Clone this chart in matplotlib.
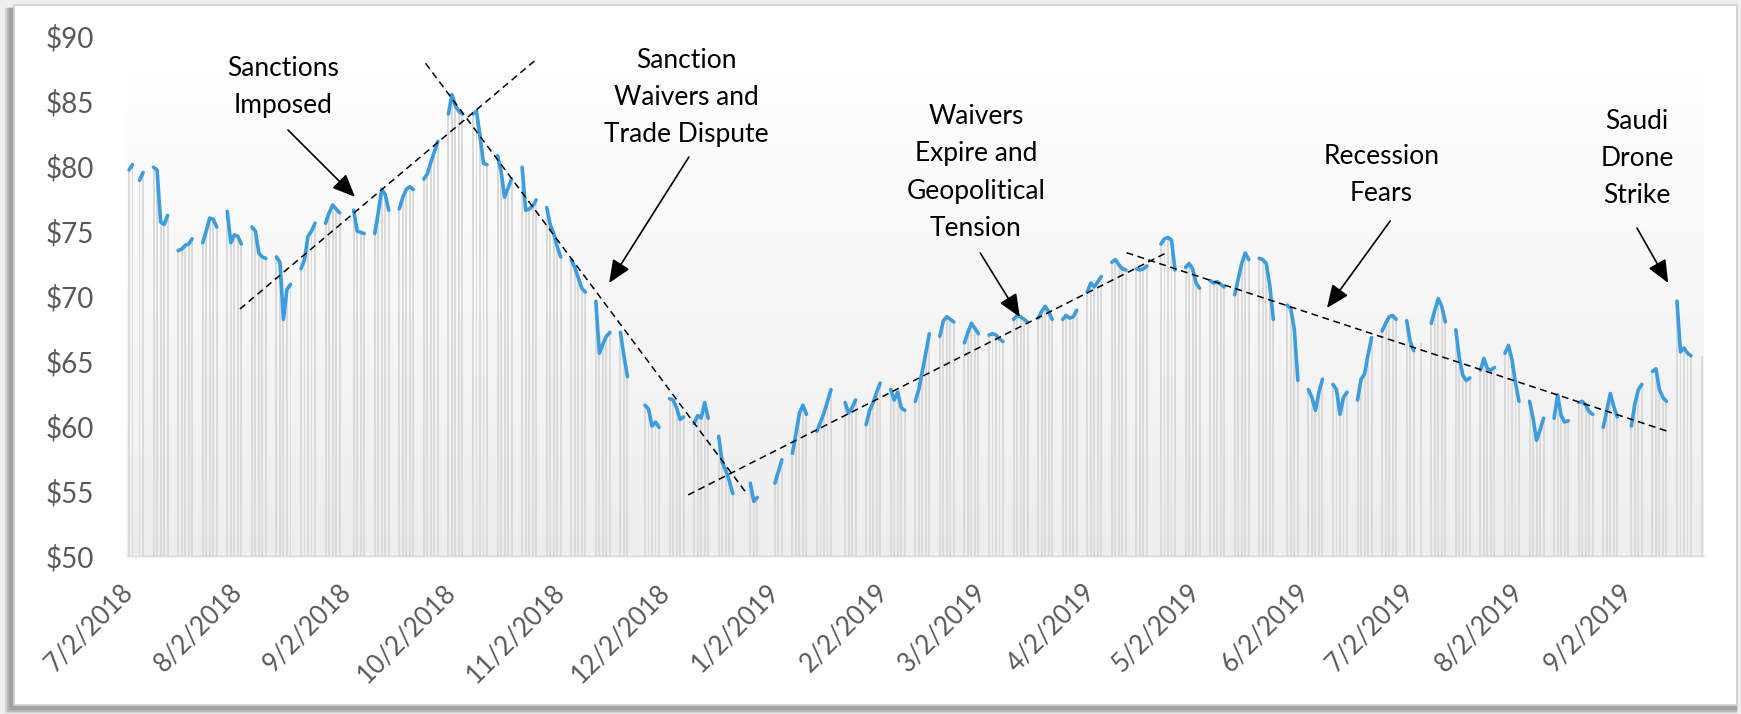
import matplotlib
matplotlib.use('Agg')
import matplotlib.pyplot as plt
import matplotlib.dates as mdates
import numpy as np
import pandas as pd
from matplotlib.patches import Rectangle

plt.rcParams['font.family'] = ['Lato', 'DejaVu Sans']

# daily close, one row per week (Mon..Fri), None = no quote that day
first_monday = '2018-07-02'
week_prices = [
    [79.7, 80.1, None, 78.9, 79.5],   # 7/2/2018
    [79.9, 79.7, 75.7, 75.5, 76.2],
    [73.5, 73.6, 73.9, 74.0, 74.4],
    [74.1, 75.0, 76.0, 75.9, 75.3],
    [76.5, 74.1, 74.7, 74.6, 74.0],
    [75.3, 75.0, 73.3, 73.0, 72.9],   # 8/6
    [73.0, 72.6, 68.2, 70.5, 70.9],
    [72.1, 72.8, 74.6, 75.0, 75.6],
    [75.6, 76.4, 77.0, 76.7, 76.4],
    [None, 76.6, 75.0, 74.9, 74.8],   # 9/3
    [74.8, 76.4, 78.2, 77.8, 76.6],
    [76.7, 77.6, 78.2, 78.4, 78.2],
    [79.0, 79.4, 80.3, 81.1, 81.9],
    [84.0, 85.5, 84.6, 84.2, 84.0],   # 10/1
    [84.0, 84.2, 82.3, 80.2, 80.1],
    [80.8, 79.6, 77.6, 78.3, 79.0],
    [79.9, 76.6, 76.7, 76.9, 77.4],
    [76.8, 75.5, 74.8, 73.8, 73.0],
    [72.8, 72.2, 71.4, 70.6, 70.3],   # 11/5
    [69.6, 65.6, 66.3, 66.9, 67.2],
    [67.2, 65.4, 63.8, None, None],
    [61.6, 61.3, 60.0, 60.3, 59.9],
    [62.1, 62.0, 61.4, 60.5, 60.7],   # 12/3
    [60.2, 60.8, 60.6, 61.8, 60.6],
    [59.2, 57.2, 56.6, 55.8, 54.8],
    [None, None, 55.6, 54.2, 54.5],
    [None, None, 55.6, 56.5, 57.4],   # 12/31
    [57.9, 59.4, 61.0, 61.6, 60.9],
    [59.6, 60.3, 61.0, 61.9, 62.8],
    [None, 61.8, 61.0, 61.4, 62.0],
    [60.1, 61.2, 61.8, 62.6, 63.3],
    [62.8, 62.0, 62.6, 61.4, 61.2],   # 2/4/2019
    [61.9, 62.8, 64.2, 65.6, 67.1],
    [66.9, 68.1, 68.4, 68.2, 68.0],
    [66.4, 67.2, 67.9, 67.5, 67.1],
    [67.0, 67.1, 67.0, 66.7, 66.5],   # 3/4
    [68.2, 68.5, 68.4, 68.2, 68.0],
    [68.3, 68.8, 69.2, 68.8, 68.2],
    [68.2, 68.5, 68.3, 68.4, 68.9],
    [70.3, 71.0, 70.7, 71.1, 71.5],   # 4/1
    [72.6, 72.8, 72.4, 72.1, 72.0],
    [72.1, 72.0, 72.1, 72.3, None],
    [74.0, 74.4, 74.5, 74.3, 72.0],
    [72.2, 72.5, 72.1, 71.0, 70.6],   # 4/29
    [71.2, 71.0, 71.1, 70.9, 70.7],
    [70.1, 71.3, 72.5, 73.3, 72.8],
    [72.9, 72.8, 72.5, 70.8, 68.2],
    [None, 69.3, 69.0, 67.4, 63.5],
    [62.8, 62.2, 61.2, 62.6, 63.6],   # 6/3
    [63.2, 62.8, 60.9, 62.2, 62.6],
    [62.0, 63.6, 64.0, 65.5, 66.8],
    [67.3, 67.9, 68.4, 68.5, 68.2],
    [68.1, 66.5, 65.8, None, 66.4],   # 7/1
    [67.9, 68.9, 69.8, 69.2, 68.0],
    [67.4, 65.2, 63.9, 63.5, 63.7],
    [64.3, 65.2, 64.4, 64.3, 64.5],
    [65.6, 66.2, 65.1, 63.3, 61.9],   # 7/29
    [61.9, 60.6, 58.9, 59.7, 60.6],
    [60.6, 62.4, 60.8, 60.3, 60.4],
    [61.8, 61.9, 61.6, 61.1, 60.9],
    [59.9, 61.2, 62.5, 61.5, 60.7],
    [None, 60.0, 61.7, 62.8, 63.2],   # 9/2
    [64.2, 64.4, 62.8, 62.2, 61.9],
    [69.6, 65.7, 66.0, 65.6, 65.4],
    [65.4],
]

tick_dates = ['2018-07-02', '2018-08-02', '2018-09-02', '2018-10-02', '2018-11-02',
              '2018-12-02', '2019-01-02', '2019-02-02', '2019-03-02', '2019-04-02',
              '2019-05-02', '2019-06-02', '2019-07-02', '2019-08-02', '2019-09-02']
tick_labels = ['7/2/2018', '8/2/2018', '9/2/2018', '10/2/2018', '11/2/2018',
               '12/2/2018', '1/2/2019', '2/2/2019', '3/2/2019', '4/2/2019',
               '5/2/2019', '6/2/2019', '7/2/2019', '8/2/2019', '9/2/2019']
y_ticks = [50, 55, 60, 65, 70, 75, 80, 85, 90]

# trend lines: (days after first_monday, price)
trend_days = [[31.6, 115.6], [84.5, 176.0], [159.3, 296.1], [284.2, 438.7]]
trend_vals = [[69.0, 88.1], [87.9, 54.8], [54.7, 73.4], [73.33, 59.56]]

# callouts: text, text position, arrow tail, arrow tip (days, price)
notes = ['Sanctions\nImposed',
         'Sanction\nWaivers and\nTrade Dispute',
         'Waivers\nExpire and\nGeopolitical\nTension',
         'Recession\nFears',
         'Saudi\nDrone\nStrike']
note_xy = [(43.9, 86.1), (158.7, 85.3), (241.3, 79.5), (356.8, 79.3), (429.6, 80.6)]
arrow_from = [(45.3, 82.77), (159.5, 80.69), (242.5, 73.31), (359.3, 75.77), (429.6, 75.23)]
arrow_to = [(64.4, 77.62), (136.8, 71.0), (253.8, 68.38), (341.3, 69.08), (438.5, 71.0)]

# ---- build daily series
t0 = mdates.date2num(pd.Timestamp(first_monday))
xs, ys = [], []
for w, row in enumerate(week_prices):
    for d, v in enumerate(row):
        xs.append(t0 + 7 * w + d)
        ys.append(np.nan if v is None else v)
    if len(row) == 5:
        xs.append(t0 + 7 * w + 5)   # weekend break
        ys.append(np.nan)
xs = np.array(xs)
ys = np.array(ys)
ok = ~np.isnan(ys)

W, H = 1741, 714
fig = plt.figure(figsize=(W / 100, H / 100), dpi=100)
fig.patch.set_facecolor('#efefef')

def px(x0, y0, x1, y1):
    # figure-fraction rectangle from pixel box (top-left origin)
    return (x0 / W, 1 - y1 / H), (x1 - x0) / W, (y1 - y0) / H

# frame with a soft shadow on the left / bottom
for off, c in [(9, '#d6d6d6'), (7, '#b9b9b9'), (5, '#a3a3a3')]:
    xy, w_, h_ = px(14 - off, 6 + 2, 1736, 705 + off * 0.8)
    fig.patches.append(Rectangle(xy, w_, h_, transform=fig.transFigure, color=c, zorder=-3))
xy, w_, h_ = px(14, 5, 1737, 705)
fig.patches.append(Rectangle(xy, w_, h_, transform=fig.transFigure, facecolor='white',
                             edgecolor='#cfcfcf', lw=1.2, zorder=-2))

ax = fig.add_axes([127 / W, 1 - 556 / H, (1704 - 127) / W, 520 / H])
ax.set_zorder(5)
ax.set_facecolor('none')

# background gradient (white on top fading to light grey)
g = np.linspace(0, 1, 256)[:, None]
shade = 1.0 - 0.07 * g ** 1.1
ax.imshow(np.dstack([shade, shade, shade]), extent=[0, 1, 0, 1], origin='upper',
          transform=ax.transAxes, aspect='auto', zorder=0, interpolation='bicubic')

ax.bar(xs[ok], ys[ok] - 50, bottom=50, width=0.55, color='#dadada', linewidth=0, zorder=1)
ax.plot(xs, ys, color='#3a9de0', lw=2.6, solid_capstyle='round', solid_joinstyle='round', zorder=3)

for dd, vv in zip(trend_days, trend_vals):
    ax.plot([t0 + d for d in dd], vv, color='black', lw=1.1, ls=(0, (4.5, 3)), zorder=4)

for txt, (tx, ty), (fx, fy), (ex, ey) in zip(notes, note_xy, arrow_from, arrow_to):
    ax.text(t0 + tx, ty, txt, ha='center', va='center', fontsize=19, color='black',
            linespacing=1.6, zorder=6)
    ax.annotate('', xy=(t0 + ex, ey), xytext=(t0 + fx, fy),
                arrowprops=dict(arrowstyle='-|>,head_length=0.7,head_width=0.3',
                                color='black', lw=1.2, shrinkA=0, shrinkB=0,
                                mutation_scale=20), zorder=6, annotation_clip=False)

ax.set_xlim(t0 - 0.57, t0 + 448.7)
ax.set_ylim(50, 90)
ax.set_yticks(y_ticks)
ax.set_yticklabels(['$%d' % v for v in y_ticks])
ax.set_xticks([mdates.date2num(pd.Timestamp(d)) for d in tick_dates])
ax.set_xticklabels(tick_labels, rotation=45, ha='right', va='center', rotation_mode='anchor')
ax.tick_params(axis='both', length=0, colors='#595959')
ax.tick_params(axis='x', pad=23, labelsize=18.5)
ax.tick_params(axis='y', pad=24, labelsize=20)
for s in ['top', 'right', 'left']:
    ax.spines[s].set_visible(False)
ax.spines['bottom'].set_color('#d9d9d9')
ax.spines['bottom'].set_linewidth(1)

fig.savefig('out.png', dpi=100, facecolor=fig.get_facecolor())
